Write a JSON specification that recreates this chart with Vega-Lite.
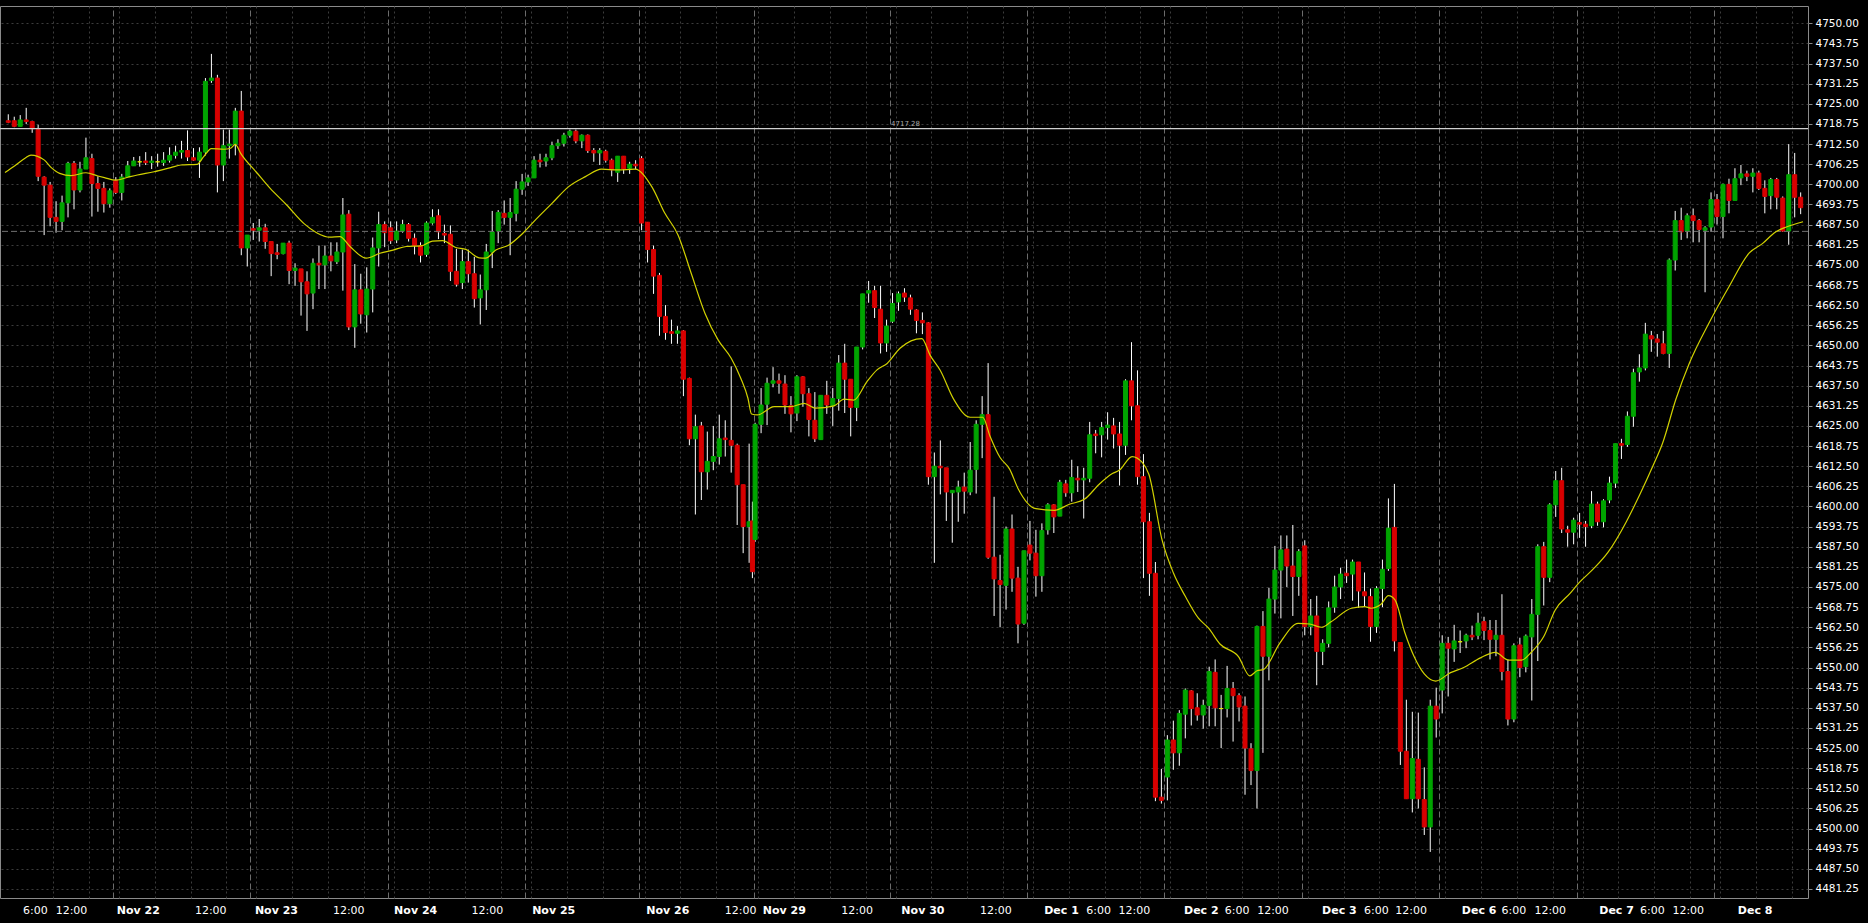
{
"$schema": "https://vega.github.io/schema/vega-lite/v6.json",
"width": 1808,
"height": 892,
"autosize": {"type": "none"},
"padding": {"left": 0, "top": 6, "right": 60, "bottom": 25},
"background": "#000000",
"config": {
  "view": {"stroke": "#8a8a8a", "strokeWidth": 1, "fill": "#000000"},
  "axis": {"labelFont": "DejaVu Sans", "labelFontSize": 11, "labelColor": "#ffffff", "domain": false}
},
"datasets": {
"candles": [
{"i":0,"o":4719.75,"h":4721.75,"l":4719.0,"c":4719.25},
{"i":1,"o":4719.75,"h":4721.0,"l":4717.75,"c":4718.0},
{"i":2,"o":4718.0,"h":4721.5,"l":4718.0,"c":4720.0},
{"i":3,"o":4720.0,"h":4723.75,"l":4718.75,"c":4719.5},
{"i":4,"o":4719.5,"h":4719.75,"l":4716.0,"c":4717.25},
{"i":5,"o":4717.0,"h":4718.5,"l":4701.0,"c":4702.5},
{"i":6,"o":4702.25,"h":4702.5,"l":4684.25,"c":4699.75},
{"i":7,"o":4699.75,"h":4700.75,"l":4687.0,"c":4689.75},
{"i":8,"o":4689.75,"h":4694.75,"l":4685.0,"c":4688.5},
{"i":9,"o":4688.5,"h":4696.5,"l":4685.75,"c":4694.25},
{"i":10,"o":4694.25,"h":4707.0,"l":4689.75,"c":4706.5},
{"i":11,"o":4706.5,"h":4707.25,"l":4692.25,"c":4698.25},
{"i":12,"o":4698.25,"h":4707.0,"l":4697.5,"c":4704.75},
{"i":13,"o":4704.75,"h":4714.5,"l":4704.75,"c":4708.25},
{"i":14,"o":4708.0,"h":4709.5,"l":4690.0,"c":4700.25},
{"i":15,"o":4700.25,"h":4702.5,"l":4691.5,"c":4698.75},
{"i":16,"o":4698.75,"h":4700.75,"l":4691.25,"c":4694.0},
{"i":17,"o":4694.0,"h":4698.75,"l":4692.75,"c":4698.0},
{"i":18,"o":4701.25,"h":4702.25,"l":4697.0,"c":4697.5},
{"i":19,"o":4697.5,"h":4703.25,"l":4695.0,"c":4702.25},
{"i":20,"o":4702.25,"h":4707.25,"l":4702.25,"c":4705.75},
{"i":21,"o":4705.75,"h":4708.5,"l":4705.75,"c":4707.25},
{"i":22,"o":4707.0,"h":4708.75,"l":4705.5,"c":4707.0},
{"i":23,"o":4707.25,"h":4710.0,"l":4706.0,"c":4706.75},
{"i":24,"o":4706.75,"h":4708.75,"l":4704.75,"c":4707.25},
{"i":25,"o":4707.0,"h":4709.5,"l":4705.5,"c":4707.0},
{"i":26,"o":4706.75,"h":4710.0,"l":4705.75,"c":4707.5},
{"i":27,"o":4707.5,"h":4711.5,"l":4706.75,"c":4709.0},
{"i":28,"o":4709.0,"h":4712.0,"l":4708.0,"c":4710.0},
{"i":29,"o":4710.0,"h":4713.5,"l":4708.0,"c":4710.5},
{"i":30,"o":4710.5,"h":4716.75,"l":4707.25,"c":4708.5},
{"i":31,"o":4708.25,"h":4711.25,"l":4707.25,"c":4707.5},
{"i":32,"o":4707.5,"h":4711.5,"l":4702.0,"c":4710.0},
{"i":33,"o":4710.0,"h":4733.0,"l":4709.0,"c":4732.0},
{"i":34,"o":4732.25,"h":4740.5,"l":4731.5,"c":4733.0},
{"i":35,"o":4733.0,"h":4734.0,"l":4697.5,"c":4706.0},
{"i":36,"o":4706.0,"h":4717.0,"l":4701.0,"c":4712.0},
{"i":37,"o":4712.0,"h":4717.0,"l":4708.0,"c":4712.5},
{"i":38,"o":4712.5,"h":4723.75,"l":4709.0,"c":4722.75},
{"i":39,"o":4722.75,"h":4729.0,"l":4678.0,"c":4680.25},
{"i":40,"o":4680.25,"h":4684.25,"l":4674.5,"c":4684.25},
{"i":41,"o":4686.25,"h":4688.0,"l":4682.75,"c":4685.75},
{"i":42,"o":4685.75,"h":4689.25,"l":4682.25,"c":4686.5},
{"i":43,"o":4686.5,"h":4687.75,"l":4680.0,"c":4682.25},
{"i":44,"o":4682.25,"h":4682.25,"l":4671.5,"c":4678.5},
{"i":45,"o":4678.75,"h":4681.5,"l":4676.75,"c":4678.25},
{"i":46,"o":4678.5,"h":4681.75,"l":4678.25,"c":4681.75},
{"i":47,"o":4681.75,"h":4682.5,"l":4669.0,"c":4673.25},
{"i":48,"o":4673.25,"h":4675.5,"l":4668.5,"c":4674.0},
{"i":49,"o":4673.75,"h":4673.75,"l":4659.25,"c":4669.75},
{"i":50,"o":4669.75,"h":4673.0,"l":4654.5,"c":4666.0},
{"i":51,"o":4666.25,"h":4677.0,"l":4661.25,"c":4675.5},
{"i":52,"o":4675.5,"h":4681.0,"l":4667.5,"c":4675.0},
{"i":53,"o":4675.0,"h":4681.0,"l":4667.5,"c":4677.75},
{"i":54,"o":4677.75,"h":4682.0,"l":4673.0,"c":4676.25},
{"i":55,"o":4676.0,"h":4682.0,"l":4675.25,"c":4679.0},
{"i":56,"o":4679.0,"h":4695.75,"l":4667.0,"c":4690.5},
{"i":57,"o":4690.75,"h":4692.0,"l":4654.75,"c":4655.75},
{"i":58,"o":4655.75,"h":4675.25,"l":4649.25,"c":4667.25},
{"i":59,"o":4667.25,"h":4672.25,"l":4656.75,"c":4659.75},
{"i":60,"o":4659.5,"h":4674.25,"l":4654.0,"c":4667.5},
{"i":61,"o":4667.5,"h":4683.5,"l":4660.25,"c":4680.25},
{"i":62,"o":4680.25,"h":4691.5,"l":4674.5,"c":4687.5},
{"i":63,"o":4687.5,"h":4688.5,"l":4680.5,"c":4685.0},
{"i":64,"o":4686.5,"h":4688.5,"l":4681.5,"c":4682.5},
{"i":65,"o":4682.75,"h":4688.5,"l":4681.75,"c":4685.5},
{"i":66,"o":4685.5,"h":4689.0,"l":4685.0,"c":4687.5},
{"i":67,"o":4687.5,"h":4688.0,"l":4682.25,"c":4683.25},
{"i":68,"o":4683.25,"h":4684.75,"l":4678.25,"c":4681.0},
{"i":69,"o":4681.0,"h":4682.0,"l":4675.75,"c":4678.0},
{"i":70,"o":4678.25,"h":4688.5,"l":4677.5,"c":4688.0},
{"i":71,"o":4688.0,"h":4692.25,"l":4687.5,"c":4689.75},
{"i":72,"o":4690.25,"h":4692.25,"l":4683.0,"c":4685.25},
{"i":73,"o":4684.75,"h":4687.5,"l":4681.75,"c":4684.25},
{"i":74,"o":4684.5,"h":4687.25,"l":4670.0,"c":4673.0},
{"i":75,"o":4673.0,"h":4680.0,"l":4668.25,"c":4669.0},
{"i":76,"o":4669.5,"h":4679.75,"l":4667.5,"c":4676.0},
{"i":77,"o":4676.0,"h":4679.75,"l":4669.5,"c":4672.25},
{"i":78,"o":4672.25,"h":4677.5,"l":4661.75,"c":4664.5},
{"i":79,"o":4664.75,"h":4672.0,"l":4656.5,"c":4667.25},
{"i":80,"o":4667.25,"h":4681.5,"l":4661.0,"c":4679.0},
{"i":81,"o":4679.0,"h":4691.75,"l":4674.0,"c":4685.25},
{"i":82,"o":4685.5,"h":4692.0,"l":4681.75,"c":4691.25},
{"i":83,"o":4691.0,"h":4695.0,"l":4687.5,"c":4689.75},
{"i":84,"o":4689.75,"h":4695.75,"l":4678.0,"c":4691.25},
{"i":85,"o":4691.0,"h":4701.0,"l":4688.5,"c":4698.5},
{"i":86,"o":4698.5,"h":4703.25,"l":4696.75,"c":4700.75},
{"i":87,"o":4700.75,"h":4703.0,"l":4699.5,"c":4702.0},
{"i":88,"o":4702.0,"h":4708.75,"l":4702.0,"c":4707.5},
{"i":89,"o":4707.5,"h":4709.5,"l":4705.25,"c":4707.0},
{"i":90,"o":4707.25,"h":4709.5,"l":4705.5,"c":4708.25},
{"i":91,"o":4708.25,"h":4713.25,"l":4707.5,"c":4712.0},
{"i":92,"o":4712.0,"h":4714.0,"l":4711.0,"c":4712.75},
{"i":93,"o":4712.75,"h":4716.0,"l":4711.75,"c":4715.25},
{"i":94,"o":4715.25,"h":4717.0,"l":4714.5,"c":4716.5},
{"i":95,"o":4716.5,"h":4717.0,"l":4712.75,"c":4713.5},
{"i":96,"o":4713.5,"h":4715.5,"l":4711.25,"c":4715.25},
{"i":97,"o":4715.25,"h":4715.5,"l":4709.75,"c":4710.5},
{"i":98,"o":4710.5,"h":4711.25,"l":4707.0,"c":4709.75},
{"i":99,"o":4709.75,"h":4711.25,"l":4706.0,"c":4710.5},
{"i":100,"o":4710.25,"h":4710.75,"l":4706.75,"c":4707.5},
{"i":101,"o":4707.5,"h":4708.0,"l":4702.5,"c":4704.5},
{"i":102,"o":4703.75,"h":4708.75,"l":4700.75,"c":4708.75},
{"i":103,"o":4708.75,"h":4708.75,"l":4703.25,"c":4704.75},
{"i":104,"o":4705.0,"h":4707.0,"l":4703.25,"c":4706.25},
{"i":105,"o":4706.25,"h":4707.5,"l":4704.75,"c":4705.75},
{"i":106,"o":4708.0,"h":4708.75,"l":4685.75,"c":4688.0},
{"i":107,"o":4688.25,"h":4688.25,"l":4675.75,"c":4679.75},
{"i":108,"o":4679.75,"h":4681.0,"l":4666.0,"c":4671.5},
{"i":109,"o":4671.75,"h":4672.5,"l":4653.0,"c":4659.0},
{"i":110,"o":4659.0,"h":4662.5,"l":4651.75,"c":4654.0},
{"i":111,"o":4654.25,"h":4658.0,"l":4650.5,"c":4653.75},
{"i":112,"o":4653.75,"h":4656.0,"l":4650.5,"c":4654.5},
{"i":113,"o":4654.5,"h":4654.75,"l":4634.25,"c":4639.5},
{"i":114,"o":4639.75,"h":4640.0,"l":4619.0,"c":4621.0},
{"i":115,"o":4621.0,"h":4628.5,"l":4597.5,"c":4624.75},
{"i":116,"o":4625.0,"h":4626.25,"l":4602.0,"c":4610.75},
{"i":117,"o":4610.75,"h":4623.25,"l":4605.25,"c":4614.0},
{"i":118,"o":4614.0,"h":4625.0,"l":4611.25,"c":4615.5},
{"i":119,"o":4615.5,"h":4628.5,"l":4613.0,"c":4621.0},
{"i":120,"o":4621.25,"h":4626.75,"l":4615.5,"c":4620.75},
{"i":121,"o":4620.5,"h":4643.5,"l":4610.5,"c":4619.0},
{"i":122,"o":4619.0,"h":4619.5,"l":4594.25,"c":4606.75},
{"i":123,"o":4606.75,"h":4606.75,"l":4585.5,"c":4593.75},
{"i":124,"o":4593.75,"h":4619.5,"l":4582.5,"c":4595.25},
{"i":124.55,"o":4595.5,"h":4601.5,"l":4577.75,"c":4579.75},
{"i":125,"o":4589.75,"h":4626.0,"l":4589.0,"c":4625.5},
{"i":126,"o":4625.5,"h":4636.75,"l":4622.75,"c":4631.5},
{"i":127,"o":4631.75,"h":4640.0,"l":4625.25,"c":4638.25},
{"i":128,"o":4638.25,"h":4643.25,"l":4637.0,"c":4639.0},
{"i":129,"o":4639.0,"h":4641.25,"l":4635.0,"c":4638.25},
{"i":130,"o":4638.0,"h":4640.75,"l":4628.75,"c":4631.5},
{"i":131,"o":4631.25,"h":4634.25,"l":4623.0,"c":4628.75},
{"i":132,"o":4629.0,"h":4640.75,"l":4626.5,"c":4640.25},
{"i":133,"o":4640.25,"h":4640.5,"l":4631.0,"c":4635.0},
{"i":134,"o":4635.0,"h":4636.75,"l":4621.75,"c":4627.0},
{"i":135,"o":4626.75,"h":4635.5,"l":4620.0,"c":4621.0},
{"i":136,"o":4620.75,"h":4634.5,"l":4620.75,"c":4634.5},
{"i":137,"o":4634.5,"h":4639.0,"l":4628.75,"c":4631.5},
{"i":138,"o":4631.25,"h":4636.75,"l":4625.0,"c":4633.5},
{"i":139,"o":4633.5,"h":4647.0,"l":4629.75,"c":4644.5},
{"i":140,"o":4644.5,"h":4650.5,"l":4629.0,"c":4639.5},
{"i":141,"o":4639.5,"h":4639.5,"l":4621.75,"c":4630.75},
{"i":142,"o":4630.75,"h":4649.5,"l":4626.5,"c":4649.5},
{"i":143,"o":4649.5,"h":4666.0,"l":4648.75,"c":4666.0},
{"i":144,"o":4666.25,"h":4670.0,"l":4663.25,"c":4667.0},
{"i":145,"o":4667.0,"h":4668.5,"l":4658.5,"c":4661.75},
{"i":146,"o":4661.25,"h":4668.5,"l":4647.5,"c":4650.75},
{"i":147,"o":4650.75,"h":4658.0,"l":4648.0,"c":4656.0},
{"i":148,"o":4657.5,"h":4666.25,"l":4657.0,"c":4663.0},
{"i":149,"o":4663.5,"h":4666.75,"l":4660.75,"c":4666.0},
{"i":150,"o":4666.25,"h":4667.75,"l":4663.5,"c":4665.0},
{"i":151,"o":4664.75,"h":4665.75,"l":4659.5,"c":4661.25},
{"i":152,"o":4661.0,"h":4661.25,"l":4653.75,"c":4657.75},
{"i":153,"o":4657.75,"h":4660.25,"l":4653.5,"c":4657.0},
{"i":154,"o":4657.0,"h":4657.25,"l":4606.75,"c":4609.25},
{"i":155,"o":4609.25,"h":4616.75,"l":4582.5,"c":4612.5},
{"i":156,"o":4612.5,"h":4620.5,"l":4603.75,"c":4612.0},
{"i":157,"o":4612.0,"h":4612.0,"l":4595.5,"c":4604.5},
{"i":158,"o":4604.25,"h":4605.0,"l":4588.75,"c":4605.0},
{"i":159,"o":4604.5,"h":4608.0,"l":4595.25,"c":4606.0},
{"i":160,"o":4606.0,"h":4610.5,"l":4597.75,"c":4604.75},
{"i":161,"o":4604.5,"h":4620.0,"l":4603.5,"c":4611.25},
{"i":162,"o":4611.5,"h":4626.75,"l":4604.0,"c":4625.5},
{"i":163,"o":4625.5,"h":4634.25,"l":4615.0,"c":4628.5},
{"i":164,"o":4628.5,"h":4644.5,"l":4583.75,"c":4584.25},
{"i":165,"o":4584.25,"h":4603.0,"l":4566.0,"c":4577.5},
{"i":166,"o":4577.0,"h":4585.0,"l":4562.5,"c":4575.75},
{"i":167,"o":4575.5,"h":4593.75,"l":4568.0,"c":4593.0},
{"i":168,"o":4593.0,"h":4597.5,"l":4573.5,"c":4577.75},
{"i":169,"o":4577.75,"h":4581.25,"l":4557.5,"c":4563.5},
{"i":170,"o":4563.75,"h":4586.25,"l":4563.25,"c":4586.25},
{"i":171,"o":4588.0,"h":4595.5,"l":4583.25,"c":4585.5},
{"i":172,"o":4585.5,"h":4592.75,"l":4572.0,"c":4578.5},
{"i":173,"o":4578.5,"h":4594.75,"l":4573.5,"c":4592.5},
{"i":174,"o":4592.75,"h":4601.0,"l":4591.25,"c":4600.5},
{"i":175,"o":4600.5,"h":4600.75,"l":4591.75,"c":4596.75},
{"i":176,"o":4597.0,"h":4608.25,"l":4597.0,"c":4607.5},
{"i":177,"o":4607.0,"h":4608.25,"l":4603.0,"c":4604.25},
{"i":178,"o":4604.25,"h":4614.5,"l":4601.5,"c":4609.0},
{"i":179,"o":4608.75,"h":4612.5,"l":4604.5,"c":4608.25},
{"i":180,"o":4608.25,"h":4612.0,"l":4596.25,"c":4608.75},
{"i":181,"o":4608.75,"h":4626.25,"l":4607.5,"c":4622.25},
{"i":182,"o":4622.5,"h":4623.75,"l":4616.5,"c":4622.0},
{"i":183,"o":4622.25,"h":4626.25,"l":4615.25,"c":4624.5},
{"i":184,"o":4624.5,"h":4629.25,"l":4620.75,"c":4625.25},
{"i":185,"o":4625.0,"h":4627.5,"l":4618.0,"c":4622.5},
{"i":186,"o":4622.5,"h":4626.25,"l":4606.5,"c":4619.0},
{"i":187,"o":4619.0,"h":4639.5,"l":4616.0,"c":4639.0},
{"i":188,"o":4639.0,"h":4651.0,"l":4626.75,"c":4631.25},
{"i":189,"o":4631.25,"h":4642.25,"l":4606.75,"c":4609.25},
{"i":190,"o":4609.25,"h":4616.25,"l":4577.75,"c":4595.25},
{"i":191,"o":4595.25,"h":4598.0,"l":4572.25,"c":4579.25},
{"i":192,"o":4579.25,"h":4582.75,"l":4508.5,"c":4509.75},
{"i":193,"o":4509.75,"h":4518.5,"l":4507.75,"c":4508.75},
{"i":194,"o":4516.0,"h":4529.0,"l":4508.75,"c":4527.5},
{"i":195,"o":4527.5,"h":4533.5,"l":4518.25,"c":4523.5},
{"i":196,"o":4523.5,"h":4536.75,"l":4519.5,"c":4535.75},
{"i":197,"o":4535.5,"h":4543.5,"l":4528.0,"c":4543.0},
{"i":198,"o":4542.75,"h":4543.0,"l":4532.0,"c":4537.25},
{"i":199,"o":4537.5,"h":4542.0,"l":4533.5,"c":4535.25},
{"i":200,"o":4535.25,"h":4540.0,"l":4531.0,"c":4538.25},
{"i":201,"o":4538.25,"h":4550.25,"l":4531.75,"c":4548.75},
{"i":202,"o":4548.5,"h":4552.5,"l":4531.75,"c":4537.5},
{"i":203,"o":4537.25,"h":4541.5,"l":4525.0,"c":4537.25},
{"i":204,"o":4537.25,"h":4550.5,"l":4534.5,"c":4543.5},
{"i":205,"o":4543.5,"h":4545.5,"l":4527.0,"c":4541.25},
{"i":206,"o":4541.25,"h":4542.0,"l":4533.25,"c":4537.75},
{"i":207,"o":4538.0,"h":4541.0,"l":4510.5,"c":4525.0},
{"i":208,"o":4524.75,"h":4526.5,"l":4513.5,"c":4518.0},
{"i":209,"o":4518.0,"h":4563.0,"l":4506.25,"c":4562.75},
{"i":210,"o":4562.75,"h":4567.5,"l":4523.5,"c":4553.5},
{"i":211,"o":4553.5,"h":4574.75,"l":4546.0,"c":4571.25},
{"i":212,"o":4571.25,"h":4587.75,"l":4566.75,"c":4580.25},
{"i":213,"o":4580.25,"h":4591.0,"l":4565.25,"c":4586.5},
{"i":214,"o":4586.75,"h":4591.0,"l":4575.0,"c":4581.5},
{"i":215,"o":4581.5,"h":4594.25,"l":4566.0,"c":4578.25},
{"i":216,"o":4578.25,"h":4586.75,"l":4572.25,"c":4586.0},
{"i":217,"o":4587.75,"h":4589.5,"l":4560.0,"c":4562.75},
{"i":218,"o":4562.75,"h":4571.25,"l":4560.0,"c":4566.0},
{"i":219,"o":4566.0,"h":4572.25,"l":4544.5,"c":4555.0},
{"i":220,"o":4555.0,"h":4558.75,"l":4550.75,"c":4557.5},
{"i":221,"o":4557.5,"h":4570.5,"l":4556.25,"c":4568.5},
{"i":222,"o":4568.75,"h":4578.5,"l":4567.0,"c":4575.0},
{"i":223,"o":4575.0,"h":4581.0,"l":4571.25,"c":4579.0},
{"i":224,"o":4579.25,"h":4583.5,"l":4576.25,"c":4578.5},
{"i":225,"o":4579.0,"h":4583.5,"l":4570.75,"c":4582.75},
{"i":226,"o":4582.75,"h":4582.75,"l":4568.5,"c":4573.75},
{"i":227,"o":4573.5,"h":4579.5,"l":4568.75,"c":4572.25},
{"i":228,"o":4572.0,"h":4574.5,"l":4558.0,"c":4562.75},
{"i":229,"o":4562.75,"h":4575.25,"l":4560.75,"c":4574.5},
{"i":230,"o":4574.5,"h":4583.5,"l":4568.75,"c":4580.5},
{"i":231,"o":4580.75,"h":4602.5,"l":4580.0,"c":4593.25},
{"i":232,"o":4593.5,"h":4607.0,"l":4555.0,"c":4558.25},
{"i":233,"o":4557.75,"h":4557.75,"l":4519.75,"c":4524.0},
{"i":234,"o":4524.0,"h":4540.0,"l":4509.25,"c":4509.25},
{"i":235,"o":4509.25,"h":4536.25,"l":4505.0,"c":4521.75},
{"i":236,"o":4521.5,"h":4536.0,"l":4506.25,"c":4509.25},
{"i":237,"o":4509.0,"h":4519.0,"l":4498.0,"c":4500.5},
{"i":238,"o":4500.5,"h":4540.0,"l":4492.75,"c":4538.0},
{"i":239,"o":4538.0,"h":4543.75,"l":4528.25,"c":4534.0},
{"i":240,"o":4543.0,"h":4560.0,"l":4535.75,"c":4557.5},
{"i":241,"o":4557.5,"h":4559.5,"l":4541.0,"c":4556.0},
{"i":242,"o":4555.75,"h":4563.25,"l":4551.75,"c":4558.25},
{"i":243,"o":4558.0,"h":4561.5,"l":4554.5,"c":4558.0},
{"i":244,"o":4558.25,"h":4560.5,"l":4556.0,"c":4560.0},
{"i":245,"o":4560.0,"h":4563.0,"l":4558.5,"c":4559.5},
{"i":246,"o":4560.0,"h":4567.0,"l":4558.75,"c":4563.75},
{"i":247,"o":4564.25,"h":4565.75,"l":4558.5,"c":4561.5},
{"i":248,"o":4561.5,"h":4564.75,"l":4552.5,"c":4558.75},
{"i":249,"o":4558.75,"h":4564.75,"l":4553.5,"c":4560.0},
{"i":250,"o":4560.0,"h":4572.75,"l":4546.0,"c":4548.75},
{"i":251,"o":4548.75,"h":4552.5,"l":4532.0,"c":4534.0},
{"i":252,"o":4534.0,"h":4557.5,"l":4533.0,"c":4556.75},
{"i":253,"o":4557.0,"h":4559.25,"l":4547.0,"c":4550.0},
{"i":254,"o":4550.25,"h":4560.25,"l":4548.5,"c":4559.75},
{"i":255,"o":4559.5,"h":4571.25,"l":4539.75,"c":4566.5},
{"i":256,"o":4566.5,"h":4588.25,"l":4552.0,"c":4587.5},
{"i":257,"o":4587.5,"h":4589.0,"l":4569.25,"c":4578.0},
{"i":258,"o":4578.0,"h":4601.0,"l":4576.5,"c":4600.5},
{"i":259,"o":4600.5,"h":4611.0,"l":4596.75,"c":4608.0},
{"i":260,"o":4608.0,"h":4612.0,"l":4591.75,"c":4593.0},
{"i":261,"o":4592.75,"h":4594.0,"l":4587.5,"c":4592.0},
{"i":262,"o":4592.0,"h":4596.5,"l":4588.25,"c":4595.75},
{"i":263,"o":4595.0,"h":4598.0,"l":4590.25,"c":4594.5},
{"i":264,"o":4594.5,"h":4595.5,"l":4587.5,"c":4593.75},
{"i":265,"o":4594.0,"h":4604.75,"l":4593.25,"c":4600.75},
{"i":266,"o":4600.75,"h":4601.5,"l":4594.0,"c":4595.25},
{"i":267,"o":4595.25,"h":4602.25,"l":4593.5,"c":4601.75},
{"i":268,"o":4602.0,"h":4609.25,"l":4601.0,"c":4607.25},
{"i":269,"o":4607.25,"h":4619.5,"l":4605.75,"c":4619.5},
{"i":270,"o":4619.5,"h":4621.0,"l":4614.75,"c":4619.0},
{"i":271,"o":4619.25,"h":4629.5,"l":4618.5,"c":4628.0},
{"i":272,"o":4628.0,"h":4642.75,"l":4624.75,"c":4641.5},
{"i":273,"o":4641.75,"h":4647.25,"l":4638.75,"c":4643.0},
{"i":274,"o":4643.0,"h":4657.0,"l":4642.25,"c":4653.5},
{"i":275,"o":4653.0,"h":4654.5,"l":4648.0,"c":4652.0},
{"i":276,"o":4652.0,"h":4653.5,"l":4646.5,"c":4651.0},
{"i":277,"o":4650.5,"h":4654.5,"l":4647.25,"c":4647.5},
{"i":278,"o":4647.5,"h":4677.0,"l":4643.0,"c":4676.5},
{"i":279,"o":4676.5,"h":4691.75,"l":4673.25,"c":4688.75},
{"i":280,"o":4688.75,"h":4692.75,"l":4682.75,"c":4685.25},
{"i":281,"o":4685.5,"h":4691.0,"l":4683.25,"c":4690.25},
{"i":282,"o":4690.25,"h":4692.5,"l":4682.0,"c":4688.75},
{"i":283,"o":4688.75,"h":4689.25,"l":4682.0,"c":4686.0},
{"i":284,"o":4685.75,"h":4687.0,"l":4666.5,"c":4686.5},
{"i":285,"o":4686.75,"h":4697.5,"l":4685.25,"c":4695.25},
{"i":286,"o":4695.25,"h":4697.0,"l":4687.5,"c":4690.0},
{"i":287,"o":4690.0,"h":4700.25,"l":4683.25,"c":4700.0},
{"i":288,"o":4700.0,"h":4701.75,"l":4691.0,"c":4695.0},
{"i":289,"o":4695.0,"h":4705.0,"l":4695.0,"c":4701.75},
{"i":290,"o":4702.0,"h":4706.0,"l":4699.75,"c":4703.25},
{"i":291,"o":4703.25,"h":4704.25,"l":4701.0,"c":4702.5},
{"i":292,"o":4702.5,"h":4705.0,"l":4697.5,"c":4703.5},
{"i":293,"o":4703.5,"h":4704.25,"l":4698.25,"c":4698.75},
{"i":294,"o":4698.75,"h":4701.25,"l":4691.0,"c":4696.25},
{"i":295,"o":4696.5,"h":4702.0,"l":4692.25,"c":4701.5},
{"i":296,"o":4701.5,"h":4702.0,"l":4692.25,"c":4696.0},
{"i":297,"o":4695.75,"h":4696.25,"l":4685.25,"c":4685.5},
{"i":298,"o":4685.5,"h":4712.5,"l":4681.25,"c":4703.0},
{"i":299,"o":4703.0,"h":4709.75,"l":4689.75,"c":4696.0},
{"i":300,"o":4696.0,"h":4697.5,"l":4690.75,"c":4692.75}
],
"ma": [
{"i":-0.55,"v":4703.7},{"i":1.1,"v":4705.8},{"i":2.8,"v":4708.1},{"i":3.8,"v":4709.1},{"i":6.0,"v":4707.6},
{"i":7.2,"v":4705.2},{"i":8.6,"v":4703.4},{"i":10.5,"v":4702.7},{"i":13.0,"v":4703.6},{"i":15.0,"v":4702.6},
{"i":16.1,"v":4702.1},{"i":18.0,"v":4701.3},{"i":20.0,"v":4702.2},{"i":21.6,"v":4702.9},{"i":24.4,"v":4703.9},
{"i":27.2,"v":4705.2},{"i":28.9,"v":4706.0},{"i":31.6,"v":4706.2},{"i":32.7,"v":4708.6},{"i":34.0,"v":4711.1},
{"i":36.1,"v":4710.9},{"i":37.2,"v":4711.2},{"i":38.0,"v":4712.4},{"i":38.9,"v":4709.6},{"i":41.6,"v":4703.6},
{"i":43.8,"v":4698.8},{"i":46.6,"v":4693.6},{"i":49.5,"v":4687.8},{"i":51.6,"v":4685.0},{"i":53.8,"v":4683.6},
{"i":55.5,"v":4683.8},{"i":57.2,"v":4680.7},{"i":59.9,"v":4677.1},{"i":62.2,"v":4678.6},{"i":64.4,"v":4679.6},
{"i":66.6,"v":4680.7},{"i":69.1,"v":4680.9},{"i":71.0,"v":4682.4},{"i":72.7,"v":4682.5},{"i":74.9,"v":4680.4},
{"i":76.6,"v":4679.8},{"i":78.8,"v":4677.2},{"i":79.9,"v":4677.1},{"i":81.6,"v":4679.6},{"i":83.8,"v":4681.2},
{"i":86.0,"v":4684.6},{"i":88.2,"v":4688.9},{"i":91.0,"v":4694.1},{"i":93.8,"v":4699.3},{"i":96.6,"v":4702.4},
{"i":99.3,"v":4704.7},{"i":102.1,"v":4704.5},{"i":104.9,"v":4704.7},{"i":107.7,"v":4699.3},{"i":109.9,"v":4691.0},
{"i":112.1,"v":4684.3},{"i":114.3,"v":4672.4},{"i":116.6,"v":4660.0},{"i":118.8,"v":4651.7},{"i":121.0,"v":4646.0},
{"i":122.6,"v":4639.8},{"i":123.8,"v":4633.6},{"i":124.4,"v":4628.7},{"i":125.4,"v":4628.4},{"i":128.2,"v":4631.0},
{"i":131.0,"v":4631.0},{"i":133.2,"v":4632.0},{"i":135.1,"v":4630.5},{"i":138.2,"v":4631.2},{"i":139.9,"v":4633.3},
{"i":141.5,"v":4633.0},{"i":143.7,"v":4638.7},{"i":145.4,"v":4642.4},{"i":147.1,"v":4644.4},{"i":149.3,"v":4649.2},
{"i":152.9,"v":4652.1},{"i":154.3,"v":4646.9},{"i":156.0,"v":4642.2},{"i":158.2,"v":4633.4},{"i":161.0,"v":4627.7},
{"i":163.1,"v":4627.7},{"i":164.3,"v":4621.9},{"i":166.0,"v":4615.2},{"i":167.6,"v":4611.6},{"i":169.0,"v":4605.6},
{"i":172.0,"v":4599.3},{"i":175.1,"v":4598.8},{"i":177.6,"v":4600.7},{"i":180.1,"v":4602.2},{"i":182.6,"v":4606.9},
{"i":184.8,"v":4610.2},{"i":186.0,"v":4611.3},{"i":188.1,"v":4615.5},{"i":189.8,"v":4613.7},{"i":190.9,"v":4610.0},
{"i":193.1,"v":4589.7},{"i":195.0,"v":4579.4},{"i":197.0,"v":4572.1},{"i":199.2,"v":4565.3},{"i":200.9,"v":4562.2},
{"i":202.8,"v":4557.3},{"i":205.9,"v":4553.4},{"i":207.8,"v":4547.4},{"i":209.0,"v":4549.0},{"i":210.1,"v":4549.4},
{"i":212.8,"v":4557.5},{"i":215.9,"v":4563.7},{"i":217.8,"v":4563.5},{"i":219.8,"v":4562.5},{"i":221.4,"v":4564.2},
{"i":224.8,"v":4568.4},{"i":227.0,"v":4568.9},{"i":228.1,"v":4568.4},{"i":229.8,"v":4569.7},{"i":231.0,"v":4572.3},
{"i":232.1,"v":4571.0},{"i":233.7,"v":4561.1},{"i":235.3,"v":4553.4},{"i":237.0,"v":4548.0},{"i":238.9,"v":4545.8},
{"i":241.4,"v":4548.4},{"i":243.6,"v":4550.0},{"i":246.4,"v":4553.0},{"i":248.9,"v":4554.7},{"i":251.1,"v":4552.3},
{"i":253.3,"v":4552.3},{"i":255.0,"v":4554.9},{"i":257.0,"v":4559.6},{"i":258.9,"v":4567.8},{"i":261.4,"v":4573.0},
{"i":263.0,"v":4576.5},{"i":265.3,"v":4580.6},{"i":267.8,"v":4585.9},{"i":270.8,"v":4595.2},{"i":273.0,"v":4603.4},
{"i":275.3,"v":4612.7},{"i":276.9,"v":4619.7},{"i":279.1,"v":4633.2},{"i":281.4,"v":4644.6},{"i":284.7,"v":4657.1},
{"i":288.0,"v":4668.2},{"i":291.4,"v":4678.7},{"i":293.6,"v":4681.6},{"i":295.8,"v":4685.2},{"i":297.5,"v":4686.7},
{"i":300.4,"v":4688.4}
],
"levels": [
{"level": 4717.28, "label": "4717.28", "at": 147.75, "kind": "last"},
{"level": 4685.4, "label": "", "at": 0, "kind": "ref"}
]
},
"layer": [
{
  "data": {"name": "candles"},
  "mark": {"type": "rule", "color": "#ffffff", "strokeWidth": 1, "clip": true},
  "encoding": {
    "x": {"field": "i", "type": "quantitative", "title": null,
      "scale": {"domain": [-0.549, 300.39], "nice": false, "zero": false},
      "axis": {"orient": "bottom", "grid": false, "ticks": false, "labelPadding": 6, "tickCount": 100,
        "labelOverlap": false, "labelFlush": false, "labelBound": false,
        "values": [4.45,10.5,21.67,33.8,44.8,56.9,68.1,80.1,91.2,110.3,122.5,129.8,142.0,153.0,165.2,176.2,182.4,188.4,199.6,205.6,211.6,222.7,228.9,234.7,246.1,251.9,258.0,269.1,275.1,281.1,292.3],
        "labelExpr": "['6:00','12:00','Nov 22','12:00','Nov 23','12:00','Nov 24','12:00','Nov 25','Nov 26','12:00','Nov 29','12:00','Nov 30','12:00','Dec 1','6:00','12:00','Dec 2','6:00','12:00','Dec 3','6:00','12:00','Dec 6','6:00','12:00','Dec 7','6:00','12:00','Dec 8'][indexof([4.45,10.5,21.67,33.8,44.8,56.9,68.1,80.1,91.2,110.3,122.5,129.8,142.0,153.0,165.2,176.2,182.4,188.4,199.6,205.6,211.6,222.7,228.9,234.7,246.1,251.9,258.0,269.1,275.1,281.1,292.3], datum.value)]",
        "labelFontWeight": {"condition": {"test": "indexof([21.67,44.8,68.1,91.2,110.3,129.8,153.0,176.2,199.6,222.7,246.1,269.1,292.3], datum.value) >= 0", "value": "bold"}, "value": "normal"}
      }},
    "y": {"field": "l", "type": "quantitative", "title": null,
      "scale": {"domain": [4478.44, 4755.37], "nice": false, "zero": false},
      "axis": {"orient": "right", "format": ".2f", "grid": true, "gridColor": "#3c3c3c", "gridDash": [2, 3], "gridWidth": 1,
        "ticks": true, "tickSize": 4, "tickColor": "#8a8a8a", "labelPadding": 3, "labelFontSize": 10.5,
        "labelOverlap": false, "labelBound": false, "labelFlush": false, "tickCount": 100,
        "values": [4481.25,4487.5,4493.75,4500,4506.25,4512.5,4518.75,4525,4531.25,4537.5,4543.75,4550,4556.25,4562.5,4568.75,4575,4581.25,4587.5,4593.75,4600,4606.25,4612.5,4618.75,4625,4631.25,4637.5,4643.75,4650,4656.25,4662.5,4668.75,4675,4681.25,4687.5,4693.75,4700,4706.25,4712.5,4718.75,4725,4731.25,4737.5,4743.75,4750]}},
    "y2": {"field": "h"}
  }
},
{
  "data": {"name": "candles"},
  "mark": {"type": "bar", "width": 4, "strokeWidth": 1, "clip": true},
  "encoding": {
    "x": {"field": "i", "type": "quantitative", "title": null,
      "axis": {"orient": "top", "labels": false, "ticks": false, "domain": false, "grid": true, "gridWidth": 1, "tickCount": 200,
        "values": [7.5,13.5,17.5,18.5,24.5,30.5,36.5,40.5,41.5,47.5,53.5,59.5,63.5,64.5,70.5,76.5,82.5,86.5,87.5,93.5,99.5,105.5,106.5,112.5,118.5,124.75,125.5,131.5,137.5,143.5,147.5,148.5,154.5,160.5,166.5,170.5,171.5,177.5,183.5,189.5,193.5,194.5,200.5,206.5,212.5,216.5,217.5,223.5,229.5,235.5,239.5,240.5,246.5,252.5,258.5,262.5,263.5,269.5,275.5,281.5,285.5,286.5,292.5,298.5],
        "gridDash": {"condition": {"test": "indexof([17.5,40.5,63.5,86.5,105.5,124.75,147.5,170.5,193.5,216.5,239.5,262.5,285.5], datum.value) >= 0", "value": [6, 3]}, "value": [2, 3]},
        "gridColor": {"condition": {"test": "indexof([17.5,40.5,63.5,86.5,105.5,124.75,147.5,170.5,193.5,216.5,239.5,262.5,285.5], datum.value) >= 0", "value": "#6c6c6c"}, "value": "#3c3c3c"}
      }},
    "y": {"field": "o", "type": "quantitative", "title": null},
    "y2": {"field": "c"},
    "fill": {"condition": [{"test": "datum.c > datum.o", "value": "#00a400"}, {"test": "datum.c < datum.o", "value": "#d80000"}], "value": "#e6e600"},
    "stroke": {"condition": [{"test": "datum.c > datum.o", "value": "#00a400"}, {"test": "datum.c < datum.o", "value": "#d80000"}], "value": "#e6e600"}
  }
},
{
  "data": {"name": "levels"},
  "transform": [{"filter": "datum.kind == 'ref'"}],
  "mark": {"type": "rule", "color": "#707070", "strokeWidth": 1, "strokeDash": [6, 3]},
  "encoding": {"y": {"field": "level", "type": "quantitative", "title": null}}
},
{
  "data": {"name": "ma"},
  "mark": {"type": "line", "color": "#d2d200", "strokeWidth": 1.2, "interpolate": "monotone", "clip": true},
  "encoding": {
    "x": {"field": "i", "type": "quantitative", "axis": null, "title": null},
    "y": {"field": "v", "type": "quantitative", "title": null}
  }
},
{
  "data": {"name": "levels"},
  "transform": [{"filter": "datum.kind == 'last'"}],
  "mark": {"type": "rule", "color": "#d0d0d0", "strokeWidth": 1.2},
  "encoding": {"y": {"field": "level", "type": "quantitative", "title": null}}
},
{
  "data": {"name": "levels"},
  "transform": [{"filter": "datum.kind == 'last'"}],
  "mark": {"type": "text", "align": "left", "baseline": "bottom", "dy": -2, "font": "DejaVu Sans", "fontSize": 7, "color": "#a8a8a8"},
  "encoding": {
    "x": {"field": "at", "type": "quantitative", "axis": null, "title": null},
    "y": {"field": "level", "type": "quantitative", "title": null},
    "text": {"field": "label"}
  }
}
],
"resolve": {"axis": {"x": "independent"}}
}
